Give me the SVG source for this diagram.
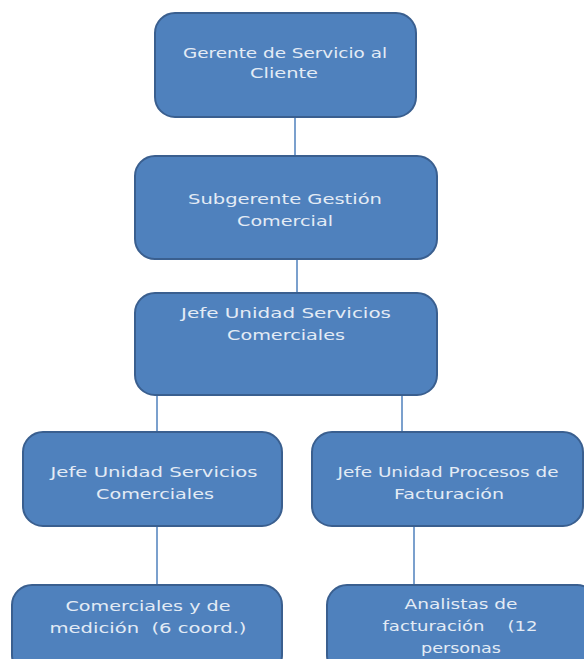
<svg xmlns="http://www.w3.org/2000/svg" width="584" height="659" viewBox="0 0 584 659">
<style>
.box{fill:#4f81bd;stroke:#3a5f8f;stroke-width:2}
.t{font-family:"DejaVu Sans",Verdana,sans-serif;font-size:14px;fill:#e3ebf5;text-anchor:middle}
.c{stroke:#4f81bd;stroke-width:1.5;fill:none}
</style>
<rect width="584" height="659" fill="#ffffff"/>
<g id="connectors">
<line class="c" x1="295" y1="117" x2="295" y2="156"/>
<line class="c" x1="297" y1="259" x2="297" y2="293"/>
<line class="c" x1="157" y1="395" x2="157" y2="432"/>
<line class="c" x1="402" y1="395" x2="402" y2="432"/>
<line class="c" x1="157" y1="526" x2="157" y2="585"/>
<line class="c" x1="414" y1="526" x2="414" y2="585"/>
</g>
<g id="n1"><rect class="box" x="155" y="13" width="261" height="104" rx="20"/>
<text class="t" x="285" y="58" textLength="204" lengthAdjust="spacingAndGlyphs">Gerente de Servicio al</text><text class="t" x="284" y="78" textLength="68" lengthAdjust="spacingAndGlyphs">Cliente</text></g>
<g id="n2"><rect class="box" x="135" y="156" width="302" height="103" rx="20"/>
<text class="t" x="285" y="204" textLength="194" lengthAdjust="spacingAndGlyphs">Subgerente Gestión</text><text class="t" x="285" y="226" textLength="96" lengthAdjust="spacingAndGlyphs">Comercial</text></g>
<g id="n3"><rect class="box" x="135" y="293" width="302" height="102" rx="20"/>
<text class="t" x="286" y="318" textLength="210" lengthAdjust="spacingAndGlyphs">Jefe Unidad Servicios</text><text class="t" x="286" y="340" textLength="118" lengthAdjust="spacingAndGlyphs">Comerciales</text></g>
<g id="n4"><rect class="box" x="23" y="432" width="259" height="94" rx="20"/>
<text class="t" x="154" y="477" textLength="207" lengthAdjust="spacingAndGlyphs">Jefe Unidad Servicios</text><text class="t" x="155" y="499" textLength="118" lengthAdjust="spacingAndGlyphs">Comerciales</text></g>
<g id="n5"><rect class="box" x="312" y="432" width="271" height="94" rx="20"/>
<text class="t" x="448" y="477" textLength="221" lengthAdjust="spacingAndGlyphs">Jefe Unidad Procesos de</text><text class="t" x="449" y="499" textLength="110" lengthAdjust="spacingAndGlyphs">Facturación</text></g>
<g id="n6"><rect class="box" x="12" y="585" width="270" height="90" rx="20"/>
<text class="t" x="148" y="611" textLength="165" lengthAdjust="spacingAndGlyphs">Comerciales y de</text><text class="t" x="148" y="633" textLength="197" lengthAdjust="spacingAndGlyphs" xml:space="preserve">medición  (6 coord.)</text></g>
<g id="n7"><rect class="box" x="327" y="585" width="270" height="90" rx="20"/>
<text class="t" x="461" y="609" textLength="113" lengthAdjust="spacingAndGlyphs">Analistas de</text><text class="t" x="460" y="631" textLength="155" lengthAdjust="spacingAndGlyphs" xml:space="preserve">facturación    (12</text><text class="t" x="461" y="653" textLength="80" lengthAdjust="spacingAndGlyphs">personas</text></g>
</svg>
